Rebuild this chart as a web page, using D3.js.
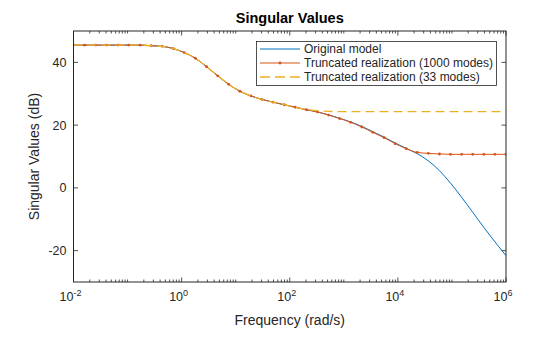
<!DOCTYPE html>
<html><head><meta charset="utf-8">
<script src="https://cdn.jsdelivr.net/npm/d3@7"></script>
<style>body{margin:0;background:#fff}svg{display:block}text{font-family:"Liberation Sans",Arial,sans-serif;fill:#262626}</style>
</head><body>
<svg id="c" width="560" height="337"></svg>
<script>
// log10 of frequency (rad/s) at each sample
const freqExp = [-2.000,-1.795,-1.590,-1.385,-1.179,-0.974,-0.769,-0.564,-0.359,-0.154,
  0.051,0.256,0.462,0.667,0.872,1.077,1.282,1.487,1.692,1.897,
  2.103,2.308,2.513,2.718,2.923,3.128,3.333,3.538,3.744,3.949,
  4.154,4.359,4.564,4.769,4.974,5.179,5.385,5.590,5.795,6.000];
const originalModel = [45.5,45.5,45.5,45.5,45.5,45.5,45.5,45.3,45.1,44.4,
  43.1,41.3,38.6,35.7,33.0,30.8,29.3,28.2,27.3,26.5,
  25.7,24.9,24.2,23.3,22.2,21.0,19.6,17.9,16.2,14.3,
  12.6,10.9,8.6,5.5,1.5,-3.0,-7.8,-12.6,-17.2,-21.6];
const trunc1000 = [45.5,45.5,45.5,45.5,45.5,45.5,45.5,45.3,45.1,44.4,
  43.1,41.3,38.6,35.7,33.0,30.8,29.3,28.2,27.3,26.5,
  25.7,24.9,24.2,23.2,22.1,20.9,19.4,17.7,16.0,14.1,
  12.5,11.3,11.0,10.8,10.7,10.7,10.7,10.7,10.7,10.7];
const trunc33 = [45.5,45.5,45.5,45.5,45.5,45.5,45.5,45.3,45.1,44.4,
  43.1,41.3,38.6,35.7,33.0,30.8,29.3,28.2,27.3,26.5,
  25.7,25.0,24.6,24.4,24.3,24.3,24.3,24.3,24.3,24.3,
  24.3,24.3,24.3,24.3,24.3,24.3,24.3,24.3,24.3,24.3];
const seriesNames = ["Original model","Truncated realization (1000 modes)","Truncated realization (33 modes)"];
const xTickExps = [-2,0,2,4,6];
const yTicks = [-20,0,20,40];

const svg = d3.select("#c");
const L=73.5, R=506, T=31, B=282;
const x = d3.scaleLog().domain([1e-2,1e6]).range([L,R]);
const y = d3.scaleLinear().domain([-30,50]).range([B,T]);
const col = {blue:"#0072BD", orange:"#D95319", yellow:"#EDB120", ax:"#262626"};

svg.append("clipPath").attr("id","cp").append("rect")
  .attr("x",L).attr("y",T).attr("width",R-L).attr("height",B-T);

const mk = arr => freqExp.map((e,i)=>({f:Math.pow(10,e), v:arr[i]}));
const line = d3.line().x(d=>x(d.f)).y(d=>y(d.v)).curve(d3.curveMonotoneX);
const g = svg.append("g").attr("clip-path","url(#cp)");
g.append("path").datum(mk(originalModel)).attr("d",line).attr("fill","none")
  .attr("stroke",col.blue).attr("stroke-width",1);
g.append("path").datum(mk(trunc1000)).attr("d",line).attr("fill","none")
  .attr("stroke",col.orange).attr("stroke-width",1);
g.selectAll("circle.m").data(mk(trunc1000)).join("circle").attr("class","m")
  .attr("cx",d=>x(d.f)).attr("cy",d=>y(d.v)).attr("r",1.4).attr("fill",col.orange);
g.append("path").datum(mk(trunc33)).attr("d",line).attr("fill","none")
  .attr("stroke",col.yellow).attr("stroke-width",1.3).attr("stroke-dasharray","9,5");

// axes box
svg.append("rect").attr("x",L).attr("y",T).attr("width",R-L).attr("height",B-T)
  .attr("fill","none").attr("stroke",col.ax).attr("stroke-width",1);

// x ticks
const minor=[];
for(let e=-2;e<6;e++) for(let k=1;k<10;k++){ if(k===1 && e%2===0) continue; minor.push(k*Math.pow(10,e)); }
const ax = svg.append("g").attr("stroke",col.ax).attr("stroke-width",0.8);
minor.forEach(f=>{ const px=x(f);
  ax.append("line").attr("x1",px).attr("x2",px).attr("y1",B).attr("y2",B-2.5);
  ax.append("line").attr("x1",px).attr("x2",px).attr("y1",T).attr("y2",T+2.5);});
xTickExps.forEach(e=>{ const px=x(Math.pow(10,e));
  ax.append("line").attr("x1",px).attr("x2",px).attr("y1",B).attr("y2",B-4.5);
  ax.append("line").attr("x1",px).attr("x2",px).attr("y1",T).attr("y2",T+4.5);
  const t=svg.append("text").attr("x",px-3).attr("y",B+19).attr("text-anchor","middle").attr("font-size",12.5);
  t.append("tspan").text("10");
  t.append("tspan").attr("dy",-5.5).attr("font-size",9).text(e);
});
yTicks.forEach(v=>{ const py=y(v);
  ax.append("line").attr("x1",L).attr("x2",L+4.5).attr("y1",py).attr("y2",py);
  ax.append("line").attr("x1",R).attr("x2",R-4.5).attr("y1",py).attr("y2",py);
  svg.append("text").attr("x",L-7).attr("y",py+4.5).attr("text-anchor","end").attr("font-size",12.5).text(v);
});

svg.append("text").attr("x",(L+R)/2).attr("y",23).attr("text-anchor","middle")
  .attr("font-size",14.5).attr("font-weight","bold").style("fill","#000").text("Singular Values");
svg.append("text").attr("x",(L+R)/2).attr("y",325).attr("text-anchor","middle")
  .attr("font-size",14).text("Frequency (rad/s)");
svg.append("text").attr("transform",`translate(39,${(T+B)/2}) rotate(-90)`).attr("text-anchor","middle")
  .attr("font-size",14).text("Singular Values (dB)");

// legend
const lg = svg.append("g");
lg.append("rect").attr("x",256.5).attr("y",41.5).attr("width",240).attr("height",44)
  .attr("fill","#fff").attr("stroke",col.ax).attr("stroke-width",0.8);
const rows=[{c:col.blue,d:null,m:false},{c:col.orange,d:null,m:true},{c:col.yellow,d:"10,5",m:false}];
rows.forEach((r,i)=>{ const yy=49+i*14;
  const l=lg.append("line").attr("x1",260).attr("x2",300).attr("y1",yy).attr("y2",yy)
    .attr("stroke",r.c).attr("stroke-width",r.d?1.3:1);
  if(r.d) l.attr("stroke-dasharray",r.d);
  if(r.m) lg.append("circle").attr("cx",280).attr("cy",yy).attr("r",1.4).attr("fill",r.c);
  lg.append("text").attr("x",304).attr("y",yy+4.2).attr("font-size",12).text(seriesNames[i]);
});
</script>
</body></html>
